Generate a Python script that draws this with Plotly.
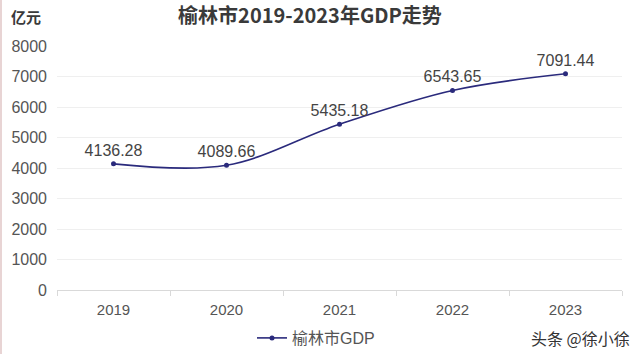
import plotly.graph_objects as go

years = ["2019", "2020", "2021", "2022", "2023"]
gdp = [4136.28, 4089.66, 5435.18, 6543.65, 7091.44]
labels = ["4136.28", "4089.66", "5435.18", "6543.65", "7091.44"]
y_ticks = [0, 1000, 2000, 3000, 4000, 5000, 6000, 7000, 8000]

FONT = "Liberation Sans, Arial, Noto Sans CJK SC, sans-serif"
LINE = "#2a2a7c"

fig = go.Figure()
fig.add_trace(go.Scatter(
    x=years, y=gdp, mode="lines+markers+text",
    name="榆林市GDP",
    line=dict(color=LINE, width=1.6, shape="spline", smoothing=1.0),
    marker=dict(color=LINE, size=5),
    text=labels, textposition="top center",
    textfont=dict(size=16, color="#444444", family=FONT),
    cliponaxis=False,
))

fig.update_layout(
    width=640, height=354,
    margin=dict(l=57, r=18, t=46, b=64, autoexpand=False),
    paper_bgcolor="white", plot_bgcolor="white",
    font=dict(family=FONT, color="#555555"),
    title=dict(text="<b>榆林市2019-2023年GDP走势</b>", x=310/640, xanchor="center",
               xref="container",
               y=1 - 16/354, yanchor="middle",
               font=dict(size=20, color="#3a3a3a", family="Noto Sans CJK SC, sans-serif")),
    showlegend=True,
    legend=dict(orientation="h", x=252/640, xanchor="left", xref="container",
                y=1 - 338/354, yanchor="middle", yref="container",
                font=dict(size=16, color="#555555", family=FONT),
                itemwidth=30, bgcolor="rgba(0,0,0,0)"),
    xaxis=dict(
        type="category", tickson="boundaries", ticks="outside", ticklen=5,
        tickcolor="#d9d9d9", showline=True, linecolor="#d9d9d9", linewidth=1,
        showgrid=False, tickfont=dict(size=15, color="#555555"),
        range=[-0.5, 4.5], ticklabelstandoff=6, automargin=False,
    ),
    yaxis=dict(
        range=[0, 8000], tickvals=y_ticks, showgrid=True, gridcolor="#efefef",
        zeroline=False, showline=False, tickfont=dict(size=16, color="#555555"),
        ticklabelstandoff=9, automargin=False,
    ),
)

fig.add_annotation(text="<b>亿元</b>", xref="paper", yref="paper", x=-48/565, y=1 + 29/244,
                   xanchor="left", yanchor="middle", showarrow=False,
                   font=dict(size=15, color="#3a3a3a", family="Noto Sans CJK SC, sans-serif"))
fig.add_annotation(text="头条 @徐小徐", xref="paper", yref="paper", x=1 + 10/565, y=-48/244,
                   xanchor="right", yanchor="middle", showarrow=False,
                   font=dict(size=16, color="#333333", family="Noto Sans CJK SC, sans-serif"))
fig.add_shape(type="line", xref="paper", yref="paper", x0=-56/565, x1=-56/565, y0=-64/244, y1=1 + 46/244,
              line=dict(color="#e8d4d4", width=2))

fig.write_html("out.html")
